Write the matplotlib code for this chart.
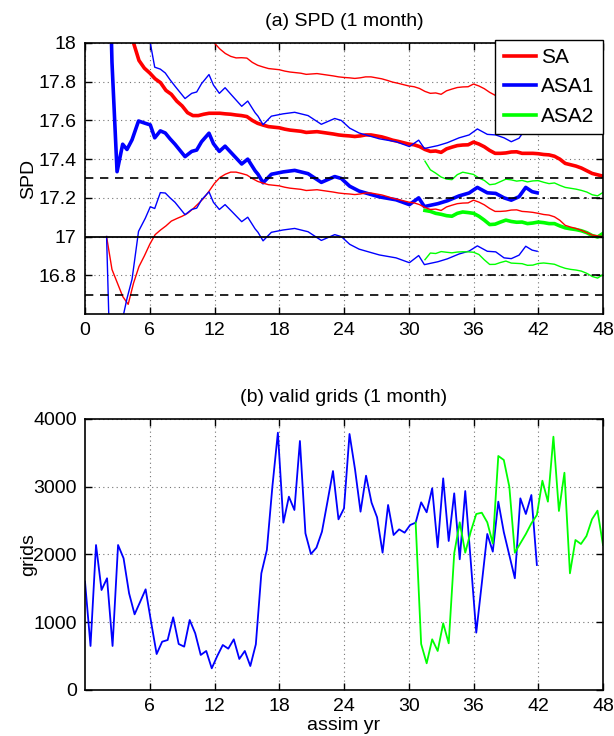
import numpy as np
import matplotlib
matplotlib.use("Agg")
import matplotlib.pyplot as plt

plt.rcParams['font.family'] = ['Liberation Sans', 'DejaVu Sans']

# ---------------- panel (a): SPD ----------------
sa_yr = np.arange(2.0, 48.01, 0.5)
sa_mean = [18.9, 18.7, 18.5, 18.35, 18.2, 18.0, 17.91, 17.87, 17.845, 17.815,
           17.795, 17.755, 17.735, 17.70, 17.675, 17.64,
           17.625, 17.625, 17.632, 17.637, 17.637, 17.637, 17.634, 17.632, 17.628, 17.625,
           17.62, 17.60, 17.585, 17.576, 17.568, 17.565, 17.562, 17.555, 17.55, 17.547,
           17.544, 17.538, 17.54, 17.542, 17.538, 17.534, 17.53, 17.525, 17.522, 17.52,
           17.517, 17.52, 17.525, 17.525, 17.52, 17.515, 17.507, 17.498, 17.492, 17.485,
           17.478, 17.474, 17.465, 17.45, 17.44, 17.442, 17.435, 17.453, 17.462, 17.47,
           17.473, 17.474, 17.488, 17.478, 17.464, 17.445, 17.43, 17.43, 17.432, 17.437,
           17.438, 17.43, 17.43, 17.43, 17.428, 17.424, 17.422, 17.415, 17.40, 17.378,
           17.371, 17.364, 17.354, 17.34, 17.326, 17.319, 17.312]
sa_std = ([1.9, 1.87, 1.74, 1.66, 1.55, 1.24, 1.065, 0.97, 0.885, 0.805,
           0.761, 0.70, 0.655, 0.607, 0.57, 0.52, 0.482, 0.455, 0.434, 0.402,
           0.362, 0.332, 0.312, 0.299, 0.295, 0.299, 0.302, 0.30]
          + [0.30] * 48
          + [0.30, 0.30, 0.302, 0.305, 0.308, 0.31, 0.311, 0.313, 0.316, 0.32,
             0.322, 0.322, 0.322, 0.32, 0.318, 0.316, 0.312])

asa1_yr = [2.0, 2.5, 2.97, 3.49, 3.89, 4.36, 4.96, 5.59, 6.05, 6.46, 6.98, 7.44, 7.88,
           8.34, 9.27, 9.89, 10.35, 10.8, 11.49, 11.9, 12.45, 12.98, 13.6, 14.52, 15.08,
           15.76, 16.03, 16.5, 17.27, 18.35, 19.43, 20.67, 21.9, 23.14, 23.75, 24.53,
           25.4, 27.28, 28.82, 30.06, 30.92, 31.45, 32.7, 33.58, 34.66, 35.59, 36.36,
           37.28, 38.06, 38.83, 39.5, 40.22, 40.84, 41.43, 41.9]
asa1_mean = [19.0, 17.9, 17.335, 17.477, 17.45, 17.50, 17.597, 17.585, 17.577, 17.51,
             17.546, 17.535, 17.505, 17.477, 17.413, 17.44, 17.447, 17.49, 17.534, 17.48,
             17.44, 17.467, 17.43, 17.375, 17.40, 17.34, 17.322, 17.278, 17.322, 17.334,
             17.342, 17.325, 17.28, 17.31, 17.30, 17.26, 17.235, 17.205, 17.19, 17.165,
             17.20, 17.155, 17.17, 17.185, 17.21, 17.225, 17.254, 17.226, 17.223, 17.20,
             17.188, 17.206, 17.254, 17.232, 17.226]
asa1_std = [2.0, 1.9, 1.15, 0.90, 0.77, 0.72, 0.57, 0.49, 0.423, 0.365, 0.319, 0.31, 0.305,
            0.30, 0.30, 0.30, 0.30, 0.30, 0.303, 0.303, 0.30, 0.302, 0.30, 0.298, 0.30,
            0.30, 0.30, 0.30, 0.30, 0.30, 0.30, 0.30, 0.30, 0.30, 0.30, 0.30,
            0.30, 0.30, 0.30, 0.30, 0.298, 0.30, 0.30, 0.30, 0.30, 0.30, 0.302,
            0.302, 0.302, 0.31, 0.302, 0.302, 0.304, 0.302, 0.302]

asa2_yr = np.arange(31.5, 48.01, 0.5)
asa2_mean = [17.135, 17.13, 17.12, 17.115, 17.108, 17.105, 17.12, 17.127, 17.124, 17.12,
             17.105, 17.085, 17.062, 17.064, 17.075, 17.085, 17.078, 17.074, 17.075, 17.067,
             17.07, 17.075, 17.072, 17.067, 17.067, 17.055, 17.045, 17.04, 17.036, 17.03,
             17.02, 17.005, 16.998, 17.016]
asa2_std = [0.2545, 0.215, 0.2075, 0.1925, 0.189, 0.189, 0.2, 0.2055, 0.203, 0.201,
            0.1975, 0.205, 0.206, 0.2075, 0.209, 0.2115, 0.215, 0.2125, 0.215, 0.2155,
            0.2175, 0.214, 0.2085, 0.2065, 0.21, 0.2095, 0.209, 0.2095, 0.209, 0.2085,
            0.21, 0.211, 0.2125, 0.212]

ref_solid = 17.0
ref_dashed = [17.3, 16.7]
ref_dashdot = [17.2, 16.8]
ref_dashdot_start = 31.5

# ---------------- panel (b): valid grids ----------------
grid_yr = np.linspace(0, 48, 95)
asa1_grids = [1600, 650, 2140, 1476, 1649, 650, 2140, 1944, 1427, 1117,
              1300, 1486, 1000, 531, 713, 738, 1073, 679, 640, 1033,
              837, 517, 576, 320, 502, 664, 610, 748, 458, 576,
              354, 674, 1722, 2066, 3000, 3798, 2470, 2853, 2657, 3675,
              2313, 2007, 2101, 2337, 2780, 3232, 2519, 2681, 3779, 3257,
              2632, 3163, 2765, 2549, 2027, 2731, 2288, 2371, 2322, 2435,
              2470, 2770, 2623, 2977, 2106, 3124, 2199, 2903, 1929, 2937,
              1900, 846, 1570, 2303, 2042, 2780, 2330, 1990, 1649, 2829,
              2598, 2878, 1845]
asa2_grids = [2470, 679, 394, 748, 576, 984, 689, 2017, 2475, 2027,
              2337, 2598, 2617, 2475, 2165, 3454, 3395, 3001, 2027, 2165,
              2302, 2460, 2583, 3089, 2780, 3739, 2642, 3207, 1722, 2214,
              2155, 2273, 2519, 2647, 2140]
asa2_start_idx = 60

RED = (1, 0, 0)
BLUE = (0, 0, 1)
GREEN = (0, 1, 0)
FS = 14

fig = plt.figure(figsize=(6.14, 7.36), dpi=100)
ax1 = fig.add_axes([0.13844, 0.57337, 0.84365, 0.36821])
ax2 = fig.add_axes([0.13844, 0.0625, 0.84365, 0.36821])

sa_m = np.array(sa_mean); sa_s = np.array(sa_std)
a1_m = np.array(asa1_mean); a1_s = np.array(asa1_std)
a2_m = np.array(asa2_mean); a2_s = np.array(asa2_std)

thick = 2.6
thin = 1.0
l1, = ax1.plot(sa_yr, sa_m, color=RED, lw=thick, label='SA')
l2, = ax1.plot(asa1_yr, a1_m, color=BLUE, lw=thick, label='ASA1')
l3, = ax1.plot(asa2_yr, a2_m, color=GREEN, lw=thick, label='ASA2')
for yr, m, s, c in [(sa_yr, sa_m, sa_s, RED), (asa1_yr, a1_m, a1_s, BLUE),
                    (asa2_yr, a2_m, a2_s, GREEN)]:
    ax1.plot(yr, m + s, color=c, lw=thin)
    ax1.plot(yr, m - s, color=c, lw=thin)

ax1.axhline(ref_solid, color='k', lw=1.3)
for v in ref_dashed:
    ax1.axhline(v, color='k', lw=1.2, ls=(0, (5, 4)))
for v in ref_dashdot:
    ax1.plot([ref_dashdot_start, 48], [v, v], color='k', lw=1.2, ls=(0, (5, 3, 1.5, 3)))

ax1.set_xlim(0, 48)
ax1.set_ylim(16.6, 18)
ax1.set_xticks(np.arange(0, 49, 6))
ax1.set_yticks([16.8, 17, 17.2, 17.4, 17.6, 17.8, 18])
ax1.set_yticklabels(['16.8', '17', '17.2', '17.4', '17.6', '17.8', '18'])
ax1.set_ylabel('SPD', fontsize=FS)
ax1.yaxis.set_label_coords(-0.093, 0.5)
ax1.set_title('(a) SPD (1 month)', fontsize=FS, pad=12.5)
leg = ax1.legend(handles=[l1, l2, l3], loc='upper right', bbox_to_anchor=(1.0, 1.012),
                 fontsize=FS + 1, frameon=True, fancybox=False, edgecolor='k',
                 handlelength=1.55, handletextpad=0.25, borderpad=0.4, labelspacing=0.5,
                 borderaxespad=0.0)
leg.get_frame().set_linewidth(1.0)
leg.get_frame().set_alpha(1.0)

ax2.plot(grid_yr[:len(asa1_grids)], asa1_grids, color=BLUE, lw=1.3)
ax2.plot(grid_yr[asa2_start_idx:asa2_start_idx + len(asa2_grids)], asa2_grids,
         color=GREEN, lw=1.3)
ax2.set_xlim(0, 48)
ax2.set_ylim(0, 4000)
ax2.set_xticks(np.arange(6, 49, 6))
ax2.set_yticks([0, 1000, 2000, 3000, 4000])
ax2.set_ylabel('grids', fontsize=FS)
ax2.yaxis.set_label_coords(-0.093, 0.5)
ax2.set_xlabel('assim yr', fontsize=FS, labelpad=1.5)
ax2.set_title('(b) valid grids (1 month)', fontsize=FS, pad=12.5)

for ax in (ax1, ax2):
    ax.grid(True, linestyle=(0, (1, 3)), color='0.45', linewidth=0.8)
    ax.tick_params(direction='in', top=True, right=True, length=5, width=1,
                   labelsize=FS, pad=6)
    for sp in ax.spines.values():
        sp.set_linewidth(1.2)

fig.savefig('out.png', dpi=100)
